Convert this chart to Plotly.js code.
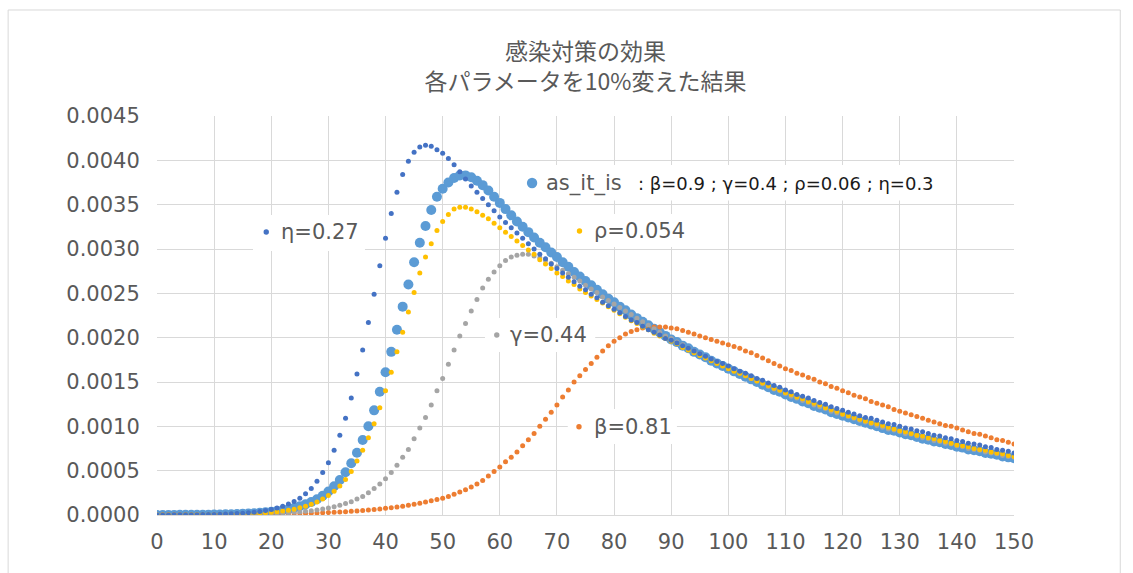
<!DOCTYPE html>
<html>
<head>
<meta charset="utf-8">
<script src="https://cdn.plot.ly/plotly-3.0.1.min.js"></script>
<style>html,body{margin:0;padding:0;background:#fff;}#chart{width:1133px;height:573px;}</style>
</head>
<body>
<div id="chart"></div>
<script>
// ---- data ----
const seriesNames = ["as_it_is", "β=0.81", "γ=0.44", "ρ=0.054", "η=0.27"];
const seriesColors = ["#5B9BD5", "#ED7D31", "#A5A5A5", "#FFC000", "#4472C4"];

const asItIs = [
0.0000007,0.0000008,0.0000010,0.0000012,0.0000015,0.0000018,0.0000022,0.0000027,0.0000033,0.0000040,
0.0000050,0.0000060,0.0000073,0.0000090,0.000011,0.000013,0.000016,0.000020,0.000024,0.000030,
0.000036,0.000044,0.000054,0.000066,0.000080,0.000098,0.000120,0.000146,0.000178,0.000217,
0.000265,0.000324,0.000395,0.000482,0.000583,0.000703,0.000846,0.00100,0.00118,0.00139,
0.00161,0.00184,0.00209,0.00235,0.00260,0.00285,0.00307,0.00326,0.00344,0.00359,
0.00368,0.00375,0.00380,0.00383,0.00383,0.00381,0.00377,0.00372,0.00366,0.00359,
0.00352,0.00345,0.00338,0.00331,0.00325,0.00319,0.00313,0.00307,0.00302,0.00296,
0.00291,0.00285,0.00280,0.00274,0.00269,0.00264,0.00259,0.00254,0.00249,0.00244,
0.00240,0.00235,0.00231,0.00226,0.00222,0.00218,0.00214,0.00210,0.00206,0.00202,
0.00198,0.00195,0.00191,0.00188,0.00184,0.00181,0.00178,0.00174,0.00171,0.00168,
0.00165,0.00162,0.00159,0.00156,0.00153,0.00150,0.00147,0.00144,0.00141,0.00139,
0.00136,0.00133,0.00131,0.00128,0.00126,0.00123,0.00121,0.00119,0.00116,0.00114,
0.00112,0.00110,0.00108,0.00106,0.00104,0.00102,0.00100,0.00098,0.00096,0.00095,
0.00093,0.00091,0.00090,0.00088,0.00086,0.00085,0.00083,0.00082,0.00080,0.00079,
0.00077,0.00076,0.00074,0.00073,0.00072,0.00070,0.00069,0.00068,0.00066,0.00065,
0.00064];

const beta081 = [
0.0000014,0.0000015,0.0000017,0.0000018,0.0000020,0.0000022,0.0000025,0.0000027,0.0000030,0.0000033,
0.0000037,0.0000041,0.0000045,0.0000050,0.0000055,0.0000061,0.0000067,0.0000074,0.0000082,0.0000090,
0.000010,0.000011,0.000012,0.000014,0.000015,0.000017,0.000018,0.000020,0.000022,0.000025,
0.000027,0.000030,0.000033,0.000037,0.000041,0.000045,0.000050,0.000055,0.000061,0.000068,
0.000075,0.000082,0.000090,0.000100,0.000110,0.000120,0.000132,0.000146,0.000160,0.000175,
0.000190,0.000210,0.000235,0.000260,0.000285,0.000315,0.000350,0.000390,0.000440,0.000490,
0.00054,0.00060,0.00065,0.00071,0.00078,0.00085,0.00092,0.00100,0.00108,0.00116,
0.00124,0.00133,0.00141,0.00150,0.00157,0.00164,0.00171,0.00178,0.00185,0.00191,
0.00196,0.00200,0.00204,0.00207,0.00209,0.00211,0.00212,0.00212,0.00212,0.00212,
0.00211,0.00210,0.00208,0.00206,0.00204,0.00202,0.00200,0.00198,0.00196,0.00194,
0.00192,0.00190,0.00188,0.00185,0.00183,0.00180,0.00177,0.00174,0.00171,0.00168,
0.00165,0.00163,0.00160,0.00158,0.00155,0.00153,0.00150,0.00148,0.00145,0.00143,
0.00140,0.00138,0.00135,0.00133,0.00131,0.00128,0.00126,0.00124,0.00122,0.00119,
0.00117,0.00115,0.00113,0.00111,0.00109,0.00107,0.00105,0.00103,0.00101,0.00100,
0.00098,0.00096,0.00094,0.00092,0.00091,0.00089,0.00087,0.00085,0.00084,0.00082,
0.00080];

const gamma044 = [
0.0000006,0.0000007,0.0000008,0.0000010,0.0000011,0.0000013,0.0000016,0.0000018,0.0000022,0.0000026,
0.0000031,0.0000036,0.0000043,0.0000050,0.0000059,0.0000070,0.0000082,0.0000097,0.000011,0.000013,
0.000016,0.000018,0.000022,0.000025,0.000030,0.000035,0.000041,0.000049,0.000057,0.000067,
0.000079,0.000093,0.00011,0.00013,0.00015,0.00018,0.00021,0.00025,0.00030,0.00035,
0.00041,0.00048,0.00056,0.00065,0.00074,0.00086,0.00098,0.00110,0.00124,0.00140,
0.00154,0.00170,0.00186,0.00202,0.00216,0.00230,0.00243,0.00256,0.00266,0.00274,
0.00281,0.00287,0.00291,0.00293,0.00294,0.00294,0.00292,0.00290,0.00287,0.00284,
0.00280,0.00276,0.00272,0.00268,0.00264,0.00259,0.00255,0.00251,0.00246,0.00242,
0.00238,0.00234,0.00230,0.00226,0.00222,0.00218,0.00214,0.00210,0.00206,0.00202,
0.00199,0.00195,0.00192,0.00188,0.00185,0.00182,0.00178,0.00175,0.00172,0.00169,
0.00166,0.00163,0.00160,0.00157,0.00154,0.00151,0.00148,0.00145,0.00142,0.00140,
0.00137,0.00134,0.00132,0.00129,0.00127,0.00124,0.00122,0.00120,0.00117,0.00115,
0.00113,0.00111,0.00109,0.00107,0.00105,0.00103,0.00101,0.00099,0.00097,0.00096,
0.00094,0.00092,0.00091,0.00089,0.00087,0.00086,0.00084,0.00083,0.00081,0.00080,
0.00078,0.00077,0.00075,0.00074,0.00073,0.00071,0.00070,0.00069,0.00067,0.00066,
0.00065];

const rho0054 = [
0.0000006,0.0000007,0.0000008,0.0000010,0.0000012,0.0000015,0.0000018,0.0000022,0.0000027,0.0000033,
0.0000040,0.0000050,0.0000060,0.0000075,0.0000090,0.000011,0.000013,0.000016,0.000020,0.000025,
0.000030,0.000037,0.000045,0.000054,0.000066,0.000081,0.000100,0.000121,0.000148,0.000180,
0.000220,0.000268,0.000328,0.000400,0.000490,0.00061,0.00073,0.00087,0.00103,0.00121,
0.00140,0.00161,0.00184,0.00206,0.00229,0.00251,0.00273,0.00291,0.00306,0.00321,
0.00331,0.00339,0.00345,0.00347,0.00347,0.00345,0.00342,0.00338,0.00334,0.00329,
0.00324,0.00319,0.00314,0.00309,0.00304,0.00299,0.00294,0.00288,0.00283,0.00278,
0.00273,0.00269,0.00264,0.00260,0.00255,0.00251,0.00247,0.00243,0.00239,0.00235,
0.00231,0.00227,0.00223,0.00219,0.00216,0.00212,0.00209,0.00205,0.00202,0.00199,
0.00196,0.00193,0.00189,0.00186,0.00183,0.00180,0.00177,0.00174,0.00171,0.00168,
0.00165,0.00162,0.00160,0.00157,0.00154,0.00151,0.00149,0.00146,0.00143,0.00141,
0.00138,0.00136,0.00133,0.00131,0.00128,0.00126,0.00124,0.00121,0.00119,0.00117,
0.00114,0.00112,0.00110,0.00108,0.00106,0.00104,0.00103,0.00101,0.00099,0.00097,
0.00095,0.00094,0.00092,0.00090,0.00089,0.00087,0.00086,0.00084,0.00083,0.00081,
0.00079,0.00078,0.00077,0.00075,0.00074,0.00073,0.00071,0.00070,0.00069,0.00067,
0.00066];

const eta027 = [
0.0000008,0.0000010,0.0000012,0.0000015,0.0000019,0.0000023,0.0000029,0.0000036,0.0000045,0.0000056,
0.0000070,0.0000088,0.000011,0.0000135,0.000017,0.000021,0.000026,0.000032,0.000040,0.000050,
0.000063,0.000079,0.000099,0.000123,0.000153,0.00019,0.00024,0.00030,0.00038,0.00048,
0.00059,0.00073,0.00090,0.00109,0.00132,0.00159,0.00186,0.00217,0.00249,0.00281,
0.00312,0.00340,0.00364,0.00384,0.00399,0.00409,0.00415,0.00417,0.00416,0.00412,
0.00408,0.00402,0.00395,0.00387,0.00379,0.00371,0.00364,0.00357,0.00350,0.00343,
0.00336,0.00330,0.00324,0.00318,0.00312,0.00306,0.00300,0.00294,0.00289,0.00283,
0.00278,0.00273,0.00268,0.00263,0.00258,0.00254,0.00249,0.00245,0.00240,0.00236,
0.00232,0.00228,0.00224,0.00220,0.00217,0.00213,0.00209,0.00206,0.00203,0.00199,
0.00197,0.00194,0.00191,0.00188,0.00185,0.00182,0.00179,0.00176,0.00173,0.00171,
0.00168,0.00165,0.00162,0.00160,0.00157,0.00154,0.00152,0.00149,0.00146,0.00144,
0.00141,0.00139,0.00136,0.00134,0.00132,0.00129,0.00127,0.00125,0.00122,0.00120,
0.00118,0.00116,0.00114,0.00112,0.00110,0.00109,0.00107,0.00105,0.00103,0.00102,
0.00100,0.00098,0.00097,0.00095,0.00094,0.00092,0.00090,0.00089,0.00087,0.00086,
0.00084,0.00083,0.00081,0.00080,0.00079,0.00077,0.00076,0.00074,0.00073,0.00072,
0.00070];

const xTickVals = [0,10,20,30,40,50,60,70,80,90,100,110,120,130,140,150];
const yTickVals = [0,0.0005,0.0010,0.0015,0.0020,0.0025,0.0030,0.0035,0.0040,0.0045];
const yTickText = ["0.0000","0.0005","0.0010","0.0015","0.0020","0.0025","0.0030","0.0035","0.0040","0.0045"];
const titleLines = ["感染対策の効果", "各パラメータを10%変えた結果"];
const asItIsNote = ": β=0.9 ; γ=0.4 ; ρ=0.06 ; η=0.3";

// ---- chart ----
const days = asItIs.map((_, i) => i);
const allSeries = [asItIs, beta081, gamma044, rho0054, eta027];
const markerSizes = [10, 5, 5, 5, 5];

const traces = allSeries.map((vals, k) => ({
  type: "scatter", mode: "markers", name: seriesNames[k],
  x: days, y: vals,
  marker: {color: seriesColors[k], size: markerSizes[k], line: {width: 0}},
  hoverinfo: "skip"
}));

const labelFont = {family: "DejaVu Sans", size: 21, color: "#595959"};
// label boxes (white, cover gridlines) and key dots: [boxX0, boxX1, boxY0, boxY1, dotX, dotY, dotR, textX, color index, text]
const labels = [
  [16.8, 36.4, 0.002977, 0.003383, 19.12, 0.003192, 2.7, 21.6, 4, "η=0.27"],
  [63.3, 137.6, 0.003547, 0.003947, 65.65, 0.003744, 5.2, 67.9, 0, "as_it_is"],
  [71.9, 93.8, 0.003023, 0.003394, 73.95, 0.003203, 2.7, 76.3, 3, "ρ=0.054"],
  [57.4, 76.7, 0.001838, 0.002221, 59.47, 0.002030, 2.7, 61.6, 2, "γ=0.44"],
  [71.9, 91.0, 0.000801, 0.001195, 73.86, 0.000996, 2.7, 76.3, 1, "β=0.81"]
];

const shapes = [];
const annotations = [];
// outer chart frame
shapes.push({type: "rect", xref: "paper", yref: "paper", x0: -0.1737, x1: 1.124, y0: -0.3, y1: 1.2657,
  line: {color: "#d9d9d9", width: 1}, fillcolor: "rgba(0,0,0,0)", layer: "below"});
labels.forEach(L => {
  shapes.push({type: "rect", xref: "x", yref: "y", x0: L[0], x1: L[1], y0: L[2], y1: L[3],
    line: {width: 0}, fillcolor: "#ffffff", layer: "between"});
  shapes.push({type: "circle", xref: "x", yref: "y", xsizemode: "pixel", ysizemode: "pixel",
    xanchor: L[4], yanchor: L[5], x0: -L[6], x1: L[6], y0: -L[6], y1: L[6],
    line: {width: 0}, fillcolor: seriesColors[L[8]], layer: "above"});
  annotations.push({xref: "x", yref: "y", x: L[7], y: L[5], xanchor: "left", yanchor: "middle",
    text: L[9], showarrow: false, font: labelFont, borderpad: 0});
});
annotations.push({xref: "x", yref: "y", x: 84.0, y: 0.003744, xanchor: "left", yanchor: "middle",
  text: asItIsNote, showarrow: false, font: {family: "DejaVu Sans", size: 18, color: "#1a1a1a"}, borderpad: 0});

const layout = {
  width: 1133, height: 573,
  margin: {l: 157, r: 119, t: 116, b: 58},
  paper_bgcolor: "#ffffff", plot_bgcolor: "#ffffff",
  showlegend: false,
  title: {text: titleLines.join("<br>"), font: {family: "Noto Sans CJK JP", size: 23, color: "#595959"},
    x: 0.5, xref: "paper", xanchor: "center", y: 1 - 60/573, yref: "container", yanchor: "top"},
  xaxis: {range: [0, 150], tickmode: "array", tickvals: xTickVals, ticktext: xTickVals.map(String),
    showgrid: true, gridcolor: "#d9d9d9", gridwidth: 1, zeroline: false,
    showline: true, linecolor: "#d9d9d9", linewidth: 1,
    ticks: "outside", ticklen: 8, tickcolor: "rgba(0,0,0,0)",
    tickfont: {family: "DejaVu Sans", size: 21, color: "#595959"}, fixedrange: true},
  yaxis: {range: [0, 0.0045], tickmode: "array", tickvals: yTickVals, ticktext: yTickText,
    showgrid: true, gridcolor: "#d9d9d9", gridwidth: 1, zeroline: false,
    showline: false,
    ticks: "outside", ticklen: 12, tickcolor: "rgba(0,0,0,0)",
    tickfont: {family: "DejaVu Sans", size: 21, color: "#595959"}, fixedrange: true},
  shapes: shapes,
  annotations: annotations
};

Plotly.newPlot("chart", traces, layout, {staticPlot: true, displayModeBar: false});
</script>
</body>
</html>
